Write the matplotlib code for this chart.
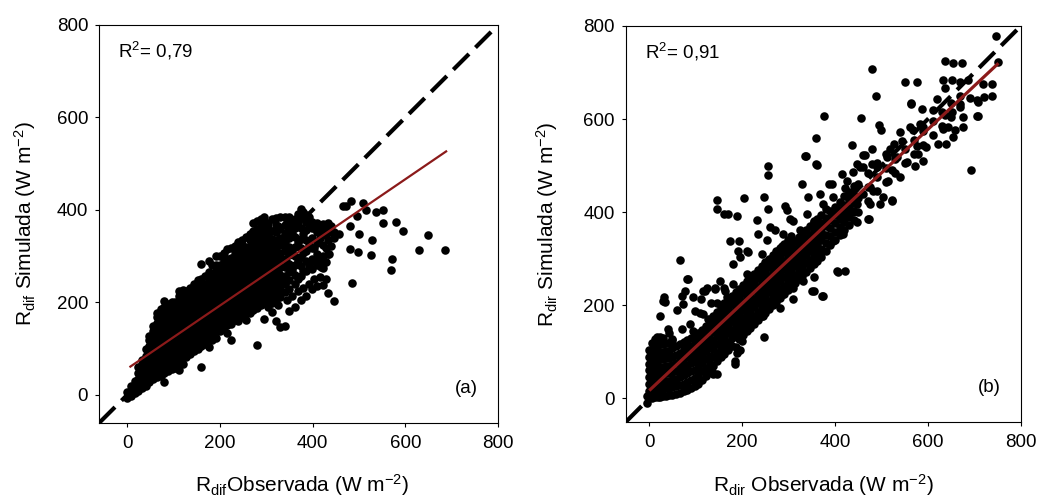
import matplotlib
matplotlib.use("Agg")
import matplotlib.pyplot as plt

plt.rcParams["font.family"] = ["Liberation Sans", "DejaVu Sans"]
plt.rcParams["mathtext.fontset"] = "custom"
plt.rcParams["mathtext.rm"] = "Liberation Sans"
plt.rcParams["mathtext.it"] = "Liberation Sans:italic"

# --- panel (a): R_dif, dense core read column by column (obs, [sim...])
dif_cols = [
    (0, [-6, 6]), (8, [-2, 9, 20]), (16, [4, 17, 30]),
    (24, [8, 21, 34, 47, 60]),
    (32, [14, 27, 40, 53, 66, 75]),
    (40, [20, 33, 46, 59, 72, 85, 100]),
    (48, [28, 41, 54, 67, 80, 93, 106, 119, 128]),
    (56, [34, 47, 60, 73, 86, 99, 112, 125, 138, 150]),
    (64, [38, 51, 64, 77, 90, 103, 116, 129, 142, 155, 168, 178]),
    (72, [42, 55, 68, 81, 94, 107, 120, 133, 146, 159, 172, 186]),
    (80, [29, 48, 61, 74, 87, 100, 113, 126, 139, 152, 165, 178, 191, 204]),
    (88, [52, 65, 78, 91, 104, 117, 130, 143, 156, 169, 182, 196]),
    (96, [56, 69, 82, 95, 108, 121, 134, 147, 160, 173, 186, 200]),
    (104, [58, 71, 84, 97, 110, 123, 136, 149, 162, 175, 188, 202]),
    (112, [55, 70, 85, 98, 111, 124, 137, 150, 163, 176, 189, 202, 215, 224]),
    (120, [68, 81, 94, 107, 120, 133, 146, 159, 172, 185, 198, 211, 226]),
    (128, [82, 95, 108, 121, 134, 147, 160, 173, 186, 199, 212, 224]),
    (136, [88, 101, 114, 127, 140, 153, 166, 179, 192, 205, 218, 232]),
    (144, [94, 107, 120, 133, 146, 159, 172, 185, 198, 211, 224, 240]),
    (152, [100, 113, 126, 139, 152, 165, 178, 191, 204, 217, 230, 248]),
    (160, [61, 106, 119, 132, 145, 158, 171, 184, 197, 210, 223, 236, 250, 283]),
    (168, [110, 123, 136, 149, 162, 175, 188, 201, 214, 227, 240, 258]),
    (176, [104, 122, 135, 148, 161, 174, 187, 200, 213, 226, 239, 252, 265, 290]),
    (184, [118, 131, 144, 157, 170, 183, 196, 209, 222, 235, 248, 261, 280]),
    (192, [124, 137, 150, 163, 176, 189, 202, 215, 228, 241, 254, 267, 282, 300]),
    (200, [138, 151, 164, 177, 190, 203, 216, 229, 242, 255, 268, 281, 300]),
    (208, [146, 159, 172, 185, 198, 211, 224, 237, 250, 263, 276, 289, 306]),
    (216, [135, 152, 165, 178, 191, 204, 217, 230, 243, 256, 269, 282, 295, 315]),
    (224, [118, 154, 167, 180, 193, 206, 219, 232, 245, 258, 271, 284, 297, 318]),
    (232, [162, 175, 188, 201, 214, 227, 240, 253, 266, 279, 292, 305, 322]),
    (240, [160, 173, 186, 199, 212, 225, 238, 251, 264, 277, 290, 303, 316, 330]),
    (248, [168, 181, 194, 207, 220, 233, 246, 259, 272, 285, 298, 311, 324, 336]),
    (256, [162, 178, 191, 204, 217, 230, 243, 256, 269, 282, 295, 308, 321, 342]),
    (264, [178, 191, 204, 217, 230, 243, 256, 269, 282, 295, 308, 321, 334, 348]),
    (272, [184, 197, 210, 223, 236, 249, 262, 275, 288, 301, 314, 327, 340, 355, 372]),
    (280, [108, 188, 201, 214, 227, 240, 253, 266, 279, 292, 305, 318, 331, 344, 358, 376]),
    (288, [194, 207, 220, 233, 246, 259, 272, 285, 298, 311, 324, 337, 350, 365, 380]),
    (296, [165, 198, 211, 224, 237, 250, 263, 276, 289, 302, 315, 328, 341, 356, 370, 384]),
    (304, [190, 204, 218, 232, 246, 260, 274, 288, 302, 316, 330, 345, 360, 372]),
    (312, [180, 198, 212, 226, 240, 254, 268, 282, 296, 310, 324, 338, 355, 380]),
    (320, [160, 200, 215, 230, 245, 260, 275, 290, 305, 320, 336, 352, 368, 382]),
    (325, [195, 236, 268, 300, 332, 365]),
    (330, [147, 212, 228, 244, 260, 276, 292, 308, 324, 340, 358, 385]),
    (340, [150, 222, 240, 258, 276, 294, 312, 330, 348, 368, 385]),
    (345, [205, 248, 285, 318, 352, 378]),
    (350, [182, 230, 248, 266, 284, 302, 320, 340, 362, 385]),
    (356, [215, 270, 310, 350, 372]),
    (362, [190, 240, 260, 280, 300, 320, 342, 362, 380]),
    (368, [225, 250, 290, 330, 372, 392]),
    (374, [205, 258, 278, 298, 318, 338, 360, 385, 402]),
    (380, [232, 268, 308, 348, 395]),
    (386, [215, 268, 290, 312, 334, 356, 375, 390]),
    (392, [240, 282, 325, 365, 385]),
    (398, [230, 272, 295, 318, 340, 362, 375]),
    (404, [250, 290, 318, 362]),
    (410, [235, 280, 304, 328, 352, 372]),
    (416, [256, 292, 340, 362]),
    (422, [237, 275, 300, 325, 350, 370]),
    (428, [250, 288, 318, 345, 365]),
    (434, [220, 305, 335, 360, 372]),
    (440, [322, 352, 366]),
    (446, [204, 340, 352]),
]
# isolated points of panel (a)
dif_extra = [
    (458, 348), (465, 409), (473, 409), (483, 420), (484, 242), (481, 316),
    (499, 310), (501, 348), (508, 416), (516, 400), (526, 303), (528, 335),
    (537, 395), (551, 400), (551, 372), (569, 270), (571, 294), (580, 374),
    (596, 355), (630, 314), (649, 346), (685, 314), (496, 387), (480, 366),
    (436, 305), (418, 276),
]

# --- panel (b): R_dir, dense core along the diagonal
dir_cols = [
    (-5, [-10, 5]), (0, [0, 15, 30, 45, 60, 75, 90, 105]),
    (6, [0, 15, 30, 45, 60, 75, 90, 105, 118]),
    (12, [2, 16, 32, 48, 64, 80, 96, 112, 128]),
    (18, [3, 18, 34, 50, 66, 82, 98, 114, 130]),
    (24, [4, 20, 36, 52, 68, 84, 100, 116, 132]),
    (30, [5, 20, 36, 52, 68, 84, 100, 116, 130]),
    (36, [6, 22, 38, 54, 70, 86, 102, 118]),
    (42, [7, 22, 38, 54, 70, 86, 102, 120, 140]),
    (50, [8, 24, 40, 56, 72, 90, 108, 125]),
    (58, [10, 26, 42, 58, 76, 94, 112]),
    (66, [12, 28, 45, 62, 80, 98, 116]),
    (74, [15, 32, 50, 68, 86, 104, 122]),
    (82, [18, 36, 54, 72, 90, 108, 126]),
    (90, [22, 40, 58, 76, 94, 112, 130]),
    (98, [26, 44, 62, 80, 98, 116, 134]),
    (106, [32, 50, 68, 86, 104, 122, 140]),
    (114, [40, 58, 76, 94, 112, 130, 148]),
    (122, [48, 66, 84, 102, 120, 138, 156]),
    (130, [56, 74, 92, 110, 128, 146, 164]),
    (138, [52, 70, 88, 106, 124, 142, 160, 176]),
    (146, [80, 98, 116, 134, 152, 170, 186]),
    (154, [88, 106, 124, 142, 160, 178, 196]),
    (162, [96, 114, 132, 150, 168, 186, 204]),
    (170, [104, 122, 140, 158, 176, 194, 212]),
    (178, [112, 130, 148, 166, 184, 202, 220]),
    (186, [110, 138, 156, 174, 192, 210, 228]),
    (194, [128, 146, 164, 182, 200, 218, 236]),
    (202, [136, 154, 172, 190, 208, 226, 244]),
    (210, [144, 162, 180, 198, 216, 234, 252]),
    (218, [152, 170, 188, 206, 224, 242, 260]),
    (226, [160, 178, 196, 214, 232, 250, 268]),
    (234, [168, 186, 204, 222, 240, 258, 276]),
    (242, [176, 194, 212, 230, 248, 266, 284]),
    (250, [184, 202, 220, 238, 256, 274, 292]),
    (258, [192, 210, 228, 246, 264, 282, 300]),
    (266, [200, 218, 236, 254, 272, 290, 308]),
    (274, [208, 226, 244, 262, 280, 298, 316]),
    (282, [216, 234, 252, 270, 288, 306, 324]),
    (290, [224, 242, 260, 278, 296, 314, 332]),
    (298, [232, 250, 268, 286, 304, 322, 340]),
    (306, [240, 258, 276, 294, 312, 330, 348]),
    (314, [248, 266, 284, 302, 320, 338]),
    (322, [256, 274, 292, 310, 328, 346]),
    (330, [264, 282, 300, 318, 336, 354]),
    (338, [272, 290, 308, 326, 344, 362]),
    (346, [280, 298, 316, 334, 352, 370]),
    (354, [288, 306, 324, 342, 360, 378]),
    (362, [296, 314, 332, 350, 368, 386]),
    (370, [304, 322, 340, 358, 376, 394]),
    (380, [316, 334, 352, 370, 388, 406]),
    (390, [330, 348, 366, 384, 402]),
    (400, [340, 358, 376, 394, 412]),
    (410, [350, 368, 386, 404, 422]),
    (420, [362, 380, 398, 416, 434]),
    (430, [372, 390, 408, 426, 444]),
    (440, [384, 402, 420, 438, 456]),
    (450, [400, 430, 460]), (470, [425, 455, 485]), (490, [445, 475, 505]),
    (510, [465, 495, 525]), (530, [485, 515]), (550, [505, 535]),
    (570, [525, 555]), (590, [545, 575]), (610, [565, 595]),
    (630, [585, 615]), (650, [605, 635]), (670, [625, 650]), (690, [645]),
]
# scattered points of panel (b)
dir_extra = [
    (747, 778), (752, 723), (718, 676), (720, 648), (707, 637), (707, 606),
    (692, 490), (674, 720), (655, 720), (637, 725), (479, 707), (488, 649),
    (551, 679), (576, 680), (563, 633), (456, 603), (376, 606), (359, 560),
    (436, 544), (335, 520), (359, 504), (256, 499), (255, 479), (328, 461),
    (145, 427), (205, 430), (248, 432), (145, 407), (160, 396), (170, 396),
    (189, 391), (233, 384), (256, 407), (174, 338), (194, 339), (253, 340),
    (235, 353), (292, 414), (296, 404), (261, 368), (303, 386), (242, 310),
    (195, 303), (213, 314), (66, 297), (82, 256), (77, 231), (70, 220),
    (32, 217), (34, 208), (24, 177), (141, 237), (120, 231), (112, 213),
    (95, 217), (161, 237), (248, 132), (373, 220), (350, 231), (407, 271),
    (421, 273), (325, 310), (474, 386), (522, 427), (188, 98), (185, 80),
    (138, 55), (145, 52),
    (633, 685), (651, 685), (637, 666), (669, 680), (687, 683), (739, 676),
    (739, 649), (705, 642), (706, 606), (619, 644), (564, 634), (587, 622),
    (612, 619), (637, 608), (651, 615), (669, 633), (676, 604), (675, 583),
    (658, 576), (644, 583), (633, 579), (655, 561), (622, 547), (640, 547),
    (590, 583), (583, 590), (569, 576), (561, 583), (540, 572), (500, 576),
    (495, 587), (544, 554), (526, 547), (518, 536), (576, 543), (579, 525),
    (597, 540), (590, 511), (572, 500), (554, 507), (533, 518), (511, 518),
    (479, 536), (461, 522), (522, 490), (515, 468), (540, 475), (490, 497),
    (461, 497), (447, 504), (414, 482), (421, 453), (393, 461), (443, 453),
    (461, 439), (482, 446), (504, 432), (522, 425), (475, 418), (497, 418),
    (472, 385), (439, 400), (418, 393), (447, 378), (404, 403), (396, 432),
    (337, 520), (361, 502), (342, 432), (368, 439), (386, 461), (425, 468),
    (439, 486), (454, 497), (465, 522), (479, 504), (475, 454), (447, 418),
    (425, 403), (375, 418), (339, 396), (354, 382), (310, 382), (289, 353),
    (271, 362), (325, 362), (303, 332), (285, 328), (325, 317), (350, 324),
    (375, 350), (396, 339), (418, 353), (411, 360), (368, 310), (346, 292),
    (318, 296), (296, 285), (404, 274), (354, 260), (332, 253), (354, 231),
    (375, 220), (310, 238), (289, 224), (267, 245), (253, 260), (231, 267),
    (210, 267), (181, 289), (192, 317), (210, 317), (181, 246), (152, 253),
    (124, 238), (134, 206), (167, 217), (195, 227), (217, 231), (238, 217),
    (260, 202), (281, 195), (310, 213), (210, 202), (188, 188), (159, 188),
    (138, 174), (116, 181), (181, 167), (217, 174), (246, 177), (152, 159),
    (84, 256), (30, 209), (73, 202), (116, 231), (142, 235), (163, 231),
    (145, 206), (99, 188), (109, 184), (59, 190), (88, 159), (70, 149),
    (41, 149), (16, 131), (48, 127), (95, 145), (127, 170), (149, 166),
    (174, 206), (156, 181), (131, 149), (152, 138), (174, 145), (195, 159),
    (199, 123), (195, 105), (174, 116), (185, 73), (113, 105), (91, 80),
]

# regression lines (end points)
fit_dif_x = [5, 690]
fit_dif_y = [60, 528]
fit_dir_x = [0, 752]
fit_dir_y = [17, 720]

ticks = [0, 200, 400, 600, 800]
r2_text = ["0,79", "0,91"]
panel_tags = ["(a)", "(b)"]


def expand(cols, extra):
    xs, ys = [], []
    for x, col in cols:
        for y in col:
            xs.append(x)
            ys.append(y)
    for x, y in extra:
        xs.append(x)
        ys.append(y)
    return xs, ys


def draw(ax, obs, sim, fx, fy, lo, r2, tag, var, lw_fit, sep):
    ax.plot([lo, 800], [lo, 800], color="black", lw=3.0, dashes=(5.3, 2.2),
            zorder=1)
    ax.scatter(obs, sim, s=38, color="black", linewidths=0, zorder=2)
    ax.plot(fx, fy, color="#8b1a1a", lw=lw_fit, zorder=3,
            solid_capstyle="butt")
    ax.set_xlim(lo, 800)
    ax.set_ylim(lo, 800)
    ax.set_xticks(ticks)
    ax.set_yticks(ticks)
    ax.tick_params(direction="out", length=3, width=0.8, labelsize=13.5)
    ax.tick_params(axis="x", pad=6)
    ax.tick_params(axis="y", pad=5)
    for sp in ax.spines.values():
        sp.set_linewidth(0.8)
    ax.text(0.048, 0.935, "R$^2$= " + r2, transform=ax.transAxes,
            fontsize=13.5, va="center", ha="left")
    ax.text(0.92, 0.087, tag, transform=ax.transAxes, fontsize=13.5,
            va="center", ha="center")
    ax.set_xlabel("R$_{\\mathrm{" + var + "}}$" + sep + "Observada (W m$^{\\mathrm{-2}}$)",
                  fontsize=15)
    ax.set_ylabel("R$_{\\mathrm{" + var + "}}$ Simulada (W m$^{\\mathrm{-2}}$)",
                  fontsize=15)


fig = plt.figure(figsize=(10.38, 4.99), dpi=100)
ax1 = fig.add_axes([0.0957, 0.1529, 0.3841, 0.7970])
ax2 = fig.add_axes([0.6031, 0.1549, 0.3803, 0.7930])

x1, y1 = expand(dif_cols, dif_extra)
x2, y2 = expand(dir_cols, dir_extra)

draw(ax1, x1, y1, fit_dif_x, fit_dif_y, -60, r2_text[0], panel_tags[0], "dif", 1.6, "")
draw(ax2, x2, y2, fit_dir_x, fit_dir_y, -50, r2_text[1], panel_tags[1], "dir", 2.3, " ")

ax1.xaxis.set_label_coords(0.508, -0.125)
ax1.yaxis.set_label_coords(-0.155, 0.5)
ax2.xaxis.set_label_coords(0.499, -0.128)
ax2.yaxis.set_label_coords(-0.168, 0.5)

fig.savefig("out.png", dpi=100)
